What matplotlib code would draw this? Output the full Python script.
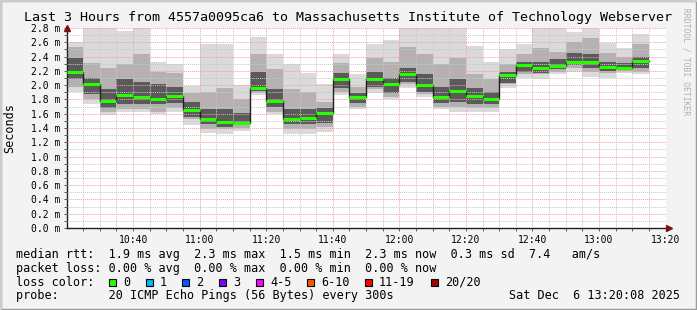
import numpy as np
import matplotlib.pyplot as plt
from matplotlib.patches import Rectangle

# ---------------------------------------------------------
# Data (5 minute steps, values in ms)
# ---------------------------------------------------------
step_start = np.arange(620, 795, 5)  # minutes after midnight, 10:20 .. 13:10

median = [2.18, 2.01, 1.78, 1.86, 1.83, 1.80, 1.85, 1.65, 1.52, 1.49, 1.47, 1.96,
          1.78, 1.53, 1.54, 1.61, 2.09, 1.84, 2.09, 2.01, 2.16, 2.00, 1.84, 1.92,
          1.85, 1.81, 2.14, 2.28, 2.24, 2.27, 2.33, 2.32, 2.25, 2.24, 2.34]
outer_lo = [1.91, 1.73, 1.58, 1.62, 1.62, 1.60, 1.62, 1.44, 1.33, 1.32, 1.36, 1.86,
            1.59, 1.32, 1.32, 1.35, 1.86, 1.66, 1.89, 1.81, 1.96, 1.83, 1.66, 1.62,
            1.62, 1.62, 1.96, 2.10, 2.08, 2.15, 2.19, 2.12, 2.10, 2.17, 2.16]
outer_hi = [2.60, 2.80, 2.80, 2.76, 2.80, 2.32, 2.29, 1.99, 2.58, 2.58, 2.00, 2.68,
            2.44, 2.29, 2.17, 2.01, 2.44, 2.16, 2.57, 2.63, 2.80, 2.80, 2.80, 2.80,
            2.55, 2.33, 2.50, 2.57, 2.80, 2.80, 2.75, 2.80, 2.59, 2.52, 2.72]
mid_lo = [1.98, 1.80, 1.63, 1.66, 1.66, 1.63, 1.68, 1.52, 1.38, 1.38, 1.40, 1.89,
          1.63, 1.38, 1.38, 1.42, 1.91, 1.70, 1.94, 1.84, 2.01, 1.87, 1.70, 1.70,
          1.68, 1.68, 2.01, 2.15, 2.15, 2.19, 2.24, 2.19, 2.17, 2.20, 2.19]
mid_hi = [2.54, 2.31, 2.24, 2.29, 2.43, 2.19, 2.17, 1.89, 1.91, 1.96, 1.80, 2.43,
          2.22, 1.94, 1.91, 1.77, 2.31, 1.98, 2.38, 2.33, 2.54, 2.43, 2.29, 2.38,
          2.15, 2.08, 2.29, 2.43, 2.52, 2.47, 2.61, 2.66, 2.45, 2.40, 2.57]
inner_lo = [2.08, 1.87, 1.68, 1.73, 1.73, 1.73, 1.75, 1.56, 1.45, 1.42, 1.44, 1.92,
            1.70, 1.45, 1.45, 1.47, 1.96, 1.75, 1.98, 1.89, 2.05, 1.91, 1.75, 1.77,
            1.73, 1.73, 2.03, 2.19, 2.17, 2.22, 2.28, 2.24, 2.20, 2.22, 2.24]
inner_hi = [2.38, 2.10, 1.94, 2.08, 2.05, 2.01, 1.98, 1.77, 1.66, 1.66, 1.61, 2.19,
            1.94, 1.66, 1.66, 1.68, 2.17, 1.89, 2.19, 2.10, 2.24, 2.15, 1.98, 2.08,
            1.96, 1.91, 2.19, 2.33, 2.33, 2.36, 2.45, 2.43, 2.33, 2.31, 2.40]

loss_labels = ["0", "1", "2", "3", "4-5", "6-10", "11-19", "20/20"]
loss_colors = ["#26ff00", "#00b8ff", "#0059ff", "#7e00ff", "#ff00ff", "#ff5500", "#ff0000", "#a10000"]

title = "Last 3 Hours from 4557a0095ca6 to Massachusetts Institute of Technology Webserver"
row1 = "median rtt:  1.9 ms avg  2.3 ms max  1.5 ms min  2.3 ms now  0.3 ms sd  7.4   am/s"
row2 = "packet loss: 0.00 % avg  0.00 % max  0.00 % min  0.00 % now"
row4 = "probe:       20 ICMP Echo Pings (56 Bytes) every 300s"
stamp = "Sat Dec  6 13:20:08 2025"

W, H = 697, 310
MONO = "DejaVu Sans Mono"

fig = plt.figure(figsize=(W / 100, H / 100), dpi=100, facecolor="#f3f3f3")
ax = fig.add_axes([67 / W, 1 - 228 / H, (666 - 67) / W, 200 / H])
ax.set_facecolor("white")

# smoke
widths = 5
ax.bar(step_start, np.subtract(outer_hi, outer_lo), bottom=outer_lo, width=widths,
       align="edge", color="#dadada", linewidth=0, zorder=1)
ax.bar(step_start, np.subtract(mid_hi, mid_lo), bottom=mid_lo, width=widths,
       align="edge", color="#b2b2b2", linewidth=0, zorder=1.1)
ax.bar(step_start, np.subtract(inner_hi, inner_lo), bottom=inner_lo, width=widths,
       align="edge", color="#5a5a5a", linewidth=0, zorder=1.2)

# median line
edges = np.append(step_start, step_start[-1] + 5)
ax.step(edges, median + [median[-1]], where="post", color="#202020", lw=1, zorder=3)
ax.hlines(median, step_start, step_start + 5, colors=loss_colors[0], lw=2.2, zorder=4)

# axes
ax.set_xlim(620 + 8 / 60, 800 + 8 / 60)
ax.set_ylim(0, 2.8)
ax.set_xticks(np.arange(640, 801, 20))
ax.set_xticks(np.arange(625, 801, 5), minor=True)
ax.set_xticklabels([f"{int(m // 60)}:{int(m % 60):02d}" for m in np.arange(640, 801, 20)])
ax.set_yticks(np.arange(0, 2.81, 0.2))
ax.set_yticks(np.arange(0, 2.81, 0.1), minor=True)
ax.set_yticklabels([f"{v:.1f} m" for v in np.arange(0, 2.81, 0.2)])

ax.set_axisbelow(False)
ax.grid(True, which="minor", color="#c8c8c8", lw=0.7, ls=(0, (1, 1)), zorder=2)
ax.grid(True, which="major", color="#f0a0a0", lw=0.7, ls=(0, (1, 1)), zorder=2)
ax.tick_params(which="both", length=2, width=0.6, color="#404040",
               labelsize=7, pad=3)
for lab in ax.get_xticklabels() + ax.get_yticklabels():
    lab.set_family(MONO)
for s in ["top", "right"]:
    ax.spines[s].set_visible(False)
for s in ["left", "bottom"]:
    ax.spines[s].set_color("#202020")
    ax.spines[s].set_linewidth(1)

# axis arrows
ax.plot([0], [1.0], transform=ax.transAxes, marker="^", ms=4, color="#7f1010",
        clip_on=False, zorder=5)
ax.plot([1.005], [0], transform=ax.transAxes, marker=">", ms=4, color="#7f1010",
        clip_on=False, zorder=5)

# text
fig.text(0.5, 1 - 18 / H, title, ha="center", va="center", family=MONO, fontsize=9.6)
fig.text(10 / W, 1 - 128 / H, "Seconds", rotation=90, ha="center", va="center",
         family=MONO, fontsize=8.5)
fig.text(686 / W, 1 - 8 / H, "RRDTOOL / TOBI OETIKER", rotation=270, ha="center",
         va="top", family=MONO, fontsize=5.8, color="#b0b0b0")

rows_y = [254.5, 268.2, 282.0, 295.8]
fig.text(16 / W, 1 - rows_y[0] / H, row1, ha="left", va="center", family=MONO, fontsize=8.5)
fig.text(16 / W, 1 - rows_y[1] / H, row2, ha="left", va="center", family=MONO, fontsize=8.5)
fig.text(16 / W, 1 - rows_y[2] / H, "loss color:", ha="left", va="center", family=MONO, fontsize=8.5)
box_x = [109, 145.7, 182.3, 219, 256, 307.3, 365, 430.7]
for bx, lab, col in zip(box_x, loss_labels, loss_colors):
    fig.patches.append(Rectangle((bx / W, 1 - (rows_y[2] + 3.5) / H), 7 / W, 7 / H,
                                 transform=fig.transFigure, facecolor=col,
                                 edgecolor="black", lw=0.8))
    fig.text((bx + 14) / W, 1 - rows_y[2] / H, lab, ha="left", va="center",
             family=MONO, fontsize=8.5)
fig.text(16 / W, 1 - rows_y[3] / H, row4, ha="left", va="center", family=MONO, fontsize=8.5)
fig.text(680 / W, 1 - rows_y[3] / H, stamp, ha="right", va="center", family=MONO, fontsize=8.5)

# frame shading
fig.patches.append(Rectangle((0, 0), 1, 1, transform=fig.transFigure, fill=False,
                             edgecolor="#9c9c9c", lw=2.5))
fig.patches.append(Rectangle((0, 1 - 1.5 / H), 1, 1.5 / H, transform=fig.transFigure,
                             facecolor="#cbcbcb", lw=0))
fig.patches.append(Rectangle((0, 0), 1.5 / W, 1, transform=fig.transFigure,
                             facecolor="#cbcbcb", lw=0))

fig.savefig("out.png", dpi=100, facecolor=fig.get_facecolor())
